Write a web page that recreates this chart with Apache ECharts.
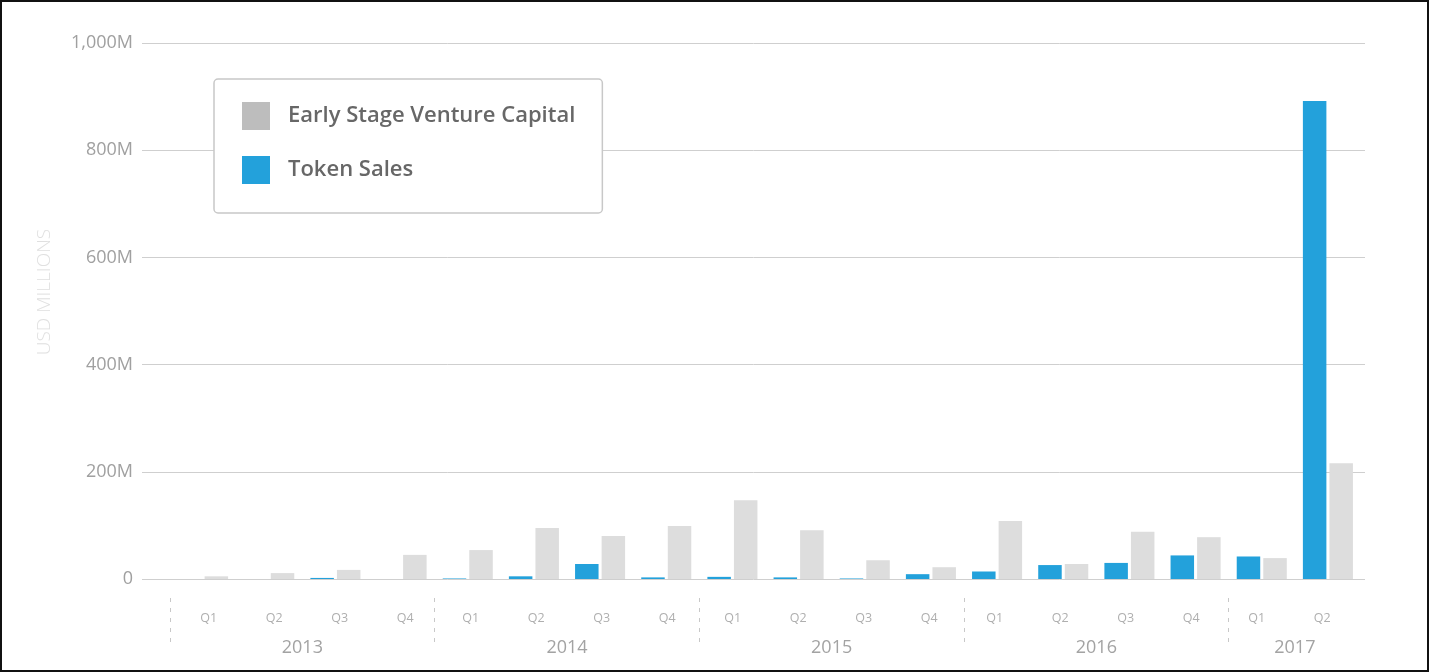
<!DOCTYPE html>
<html>
<head>
<meta charset="utf-8">
<script src="https://cdn.jsdelivr.net/npm/echarts@6/dist/echarts.min.js"></script>
<style>
html,body{margin:0;padding:0;background:#fff;}
#frame{width:1429px;height:672px;box-sizing:border-box;border:2px solid #111;position:relative;}
#chart{position:absolute;left:-2px;top:-2px;width:1429px;height:672px;}
</style>
</head>
<body>
<div id="frame"><div id="chart"></div></div>
<script>
const quarters = ['Q1','Q2','Q3','Q4','Q1','Q2','Q3','Q4','Q1','Q2','Q3','Q4','Q1','Q2','Q3','Q4','Q1','Q2'];
const years = ['2013','2014','2015','2016','2017'];
const yearCenters = [1.5, 5.5, 9.5, 13.5, 16.5];
const yearBounds = [-0.5, 3.5, 7.5, 11.5, 15.5];
const vcValues = [5, 11, 17, 45, 54, 95, 80, 99, 147, 91, 35, 22, 108, 28, 88, 78, 39, 216];
const tokenValues = [0, 0, 2, 0, 1, 5, 28, 3, 4, 3, 1, 9, 14, 26, 30, 44, 42, 892];
const yTicks = [0, 200, 400, 600, 800, 1000];

const chart = echarts.init(document.getElementById('chart'));
const FONT = "'Open Sans', 'Noto Sans', sans-serif";
const option = {
  backgroundColor: 'transparent',
  animation: false,
  grid: [
    {left: 142, right: 64, top: 43, bottom: 93},
    {left: 170, right: 68, top: 43, bottom: 93},
    {left: 176, right: 74, top: 43, bottom: 93}
  ],
  legend: {
    orient: 'vertical',
    left: 214, top: 79,
    padding: [23, 27, 29, 28],
    itemWidth: 28, itemHeight: 28, itemGap: 26,
    backgroundColor: '#fff',
    borderColor: '#c8c8c8', borderWidth: 1.5, borderRadius: 4,
    icon: 'rect',
    textStyle: {fontFamily: FONT, fontSize: 22, fontWeight: 600, color: '#676767', padding: [0, 0, 0, 13]},
    data: [
      {name: 'Early Stage Venture Capital', itemStyle: {color: '#bdbdbd'}},
      {name: 'Token Sales', itemStyle: {color: '#23a1db'}}
    ]
  },
  xAxis: [
    {gridIndex: 0, type: 'value', min: 0, max: 1, show: false},
    {gridIndex: 1, type: 'category', data: quarters,
      axisLine: {show: false}, axisTick: {show: false}, axisLabel: {show: false}},
    {gridIndex: 1, type: 'value', min: -0.5, max: 17.5, position: 'bottom', offset: 19,
      axisLine: {show: false}, splitLine: {show: false},
      axisTick: {show: true, customValues: yearBounds, length: 49,
        lineStyle: {color: '#c8c8c8', type: [4, 6], width: 1}},
      axisLabel: {customValues: yearCenters, margin: 41, fontFamily: FONT, fontSize: 18, color: '#a3a3a3',
        formatter: function (v) { const i = yearCenters.indexOf(v); return i >= 0 ? years[i] : ''; }}},
    {gridIndex: 2, type: 'category', data: quarters,
      axisLine: {show: false}, axisTick: {show: false},
      axisLabel: {fontFamily: FONT, fontSize: 12.5, color: '#afafaf', margin: 33}}
  ],
  yAxis: [
    {gridIndex: 0, type: 'value', min: 0, max: 1000, interval: 200,
      name: 'USD MILLIONS', nameLocation: 'middle', nameGap: 88,
      nameTextStyle: {fontFamily: FONT, fontSize: 19, fontWeight: 300, color: '#e0e0e0', padding: [0, 0, 0, 38]},
      axisLine: {show: false}, axisTick: {show: false},
      axisLabel: {fontFamily: FONT, fontSize: 18, color: '#a0a0a0', margin: 9,
        formatter: function (v) { return v === 0 ? '0' : (v >= 1000 ? (v/1000) + ',' + String(v%1000).padStart(3,'0') : v) + 'M'; }},
      splitLine: {lineStyle: {color: '#cfcfcf', width: 1}}},
    {gridIndex: 1, type: 'value', min: 0, max: 1000, interval: 200, show: false, splitLine: {show: false}},
    {gridIndex: 2, type: 'value', min: 0, max: 1000, interval: 200, show: false, splitLine: {show: false}}
  ],
  series: [
    {name: 'Token Sales', type: 'bar', xAxisIndex: 1, yAxisIndex: 1, data: tokenValues,
      barWidth: 23.5, barGap: '13%', itemStyle: {color: '#23a1db'}},
    {name: 'Early Stage Venture Capital', type: 'bar', xAxisIndex: 1, yAxisIndex: 1, data: vcValues,
      barWidth: 23.5, barGap: '13%', itemStyle: {color: '#dddddd'}}
  ]
};
chart.setOption(option);
</script>
</body>
</html>
